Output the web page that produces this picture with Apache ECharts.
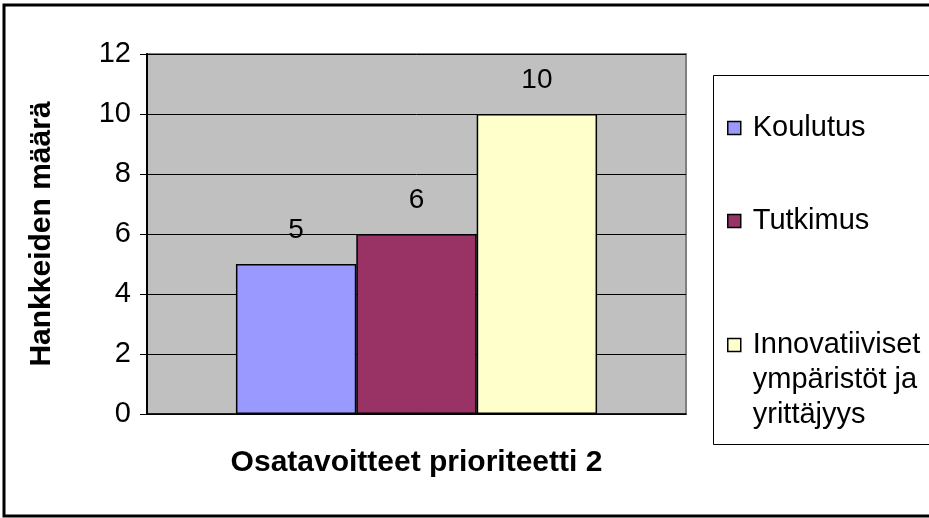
<!DOCTYPE html>
<html lang="fi">
<head>
    <meta charset="UTF-8">
    <script src="https://cdn.jsdelivr.net/npm/echarts@6/dist/echarts.min.js"></script>
    <title>Osatavoitteet prioriteetti 2</title>
    <style>
        html,body{
            height:100%;
            width:100%;
            margin:0;
            padding:0;
            background:#fff;
        }
    </style>
</head>
<body>
    <div id="main" style="width:929px;height:518px"></div>
    <script>
        // data
        var categories = [''];
        var seriesNames = ['Koulutus', 'Tutkimus', 'Innovatiiviset ympäristöt ja yrittäjyys'];
        // two blank lines in front keep the icon level with the first text line
        var legendLabels = ['{t|Koulutus}', '{t|Tutkimus}', '\n\n{t|Innovatiiviset}\n{t|ympäristöt ja}\n{t|yrittäjyys}'];
        var values = [5, 6, 10];
        var colors = ['#9999ff', '#993366', '#ffffcc'];
        var yTicks = {min: 0, max: 12, step: 2};
        var xTitle = 'Osatavoitteet prioriteetti 2';
        var yTitle = 'Hankkeiden määrä';

        var font = 'Arial, "Liberation Sans", sans-serif';
        var myChart = echarts.init(document.getElementById('main'));

        var series = seriesNames.map(function (name, i) {
            return {
                name: name,
                type: 'bar',
                data: [values[i]],
                barGap: '0%',
                barCategoryGap: '33%',
                itemStyle: {color: colors[i], borderColor: '#000', borderWidth: 1.5},
                label: {
                    show: true,
                    position: 'top',
                    distance: 20,
                    color: '#000',
                    fontFamily: font,
                    fontSize: 28
                }
            };
        });

        // one legend per entry, placed where the picture has them
        var legendTops = [110.5, 203.5, 257.5];
        var legends = seriesNames.map(function (name, i) {
            return {
                data: [name],
                left: 727,
                top: legendTops[i],
                padding: 0,
                itemWidth: 13,
                itemHeight: 13,
                icon: 'rect',
                itemStyle: {borderColor: '#000', borderWidth: 1.5},
                formatter: function () { return legendLabels[i]; },
                textStyle: {
                    color: '#000',
                    fontFamily: font,
                    fontSize: 29,
                    lineHeight: 35,
                    rich: {
                        t: {color: '#000', fontFamily: font, fontSize: 29, lineHeight: 35, padding: [0, 0, 0, 7]}
                    }
                }
            };
        });

        var option = {
            animation: false,
            textStyle: {fontFamily: font},
            color: colors,
            graphic: [
                {type: 'rect', shape: {x: 4, y: 5, width: 1000, height: 511},
                 style: {fill: 'transparent', stroke: '#000', lineWidth: 3}},
                {type: 'rect', shape: {x: 713.5, y: 75.5, width: 300, height: 369},
                 style: {fill: 'transparent', stroke: '#000', lineWidth: 1}}
            ],
            legend: legends,
            grid: {
                left: 147,
                top: 54,
                right: 243,
                bottom: 104,
                show: true,
                backgroundColor: '#c0c0c0',
                borderColor: '#808080',
                borderWidth: 2
            },
            xAxis: {
                type: 'category',
                data: categories,
                name: xTitle,
                nameLocation: 'middle',
                nameGap: 34,
                nameTextStyle: {color: '#000', fontSize: 30, fontWeight: 'bold', fontFamily: font},
                axisLine: {lineStyle: {color: '#000', width: 1.5}},
                axisTick: {show: false},
                axisLabel: {show: false}
            },
            yAxis: {
                type: 'value',
                min: yTicks.min,
                max: yTicks.max,
                interval: yTicks.step,
                name: yTitle,
                nameLocation: 'middle',
                nameGap: 90,
                nameTextStyle: {color: '#000', fontSize: 30, fontWeight: 'bold', fontFamily: font},
                axisLine: {show: true, lineStyle: {color: '#000', width: 2}},
                axisTick: {show: true, length: 7, lineStyle: {color: '#000', width: 1}},
                axisLabel: {color: '#000', fontSize: 29, margin: 16, fontFamily: font},
                splitLine: {lineStyle: {color: '#000', width: 1}}
            },
            series: series
        };

        myChart.setOption(option);
    </script>
</body>
</html>
